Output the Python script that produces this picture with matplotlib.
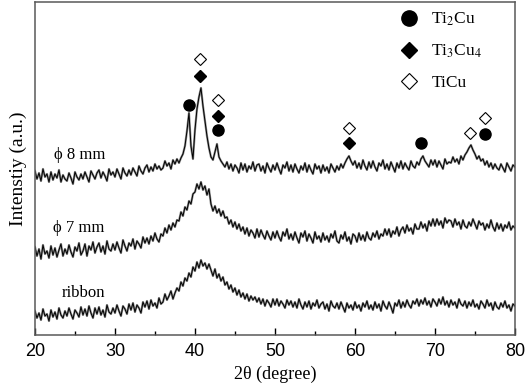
""" XRD patterns of ribbon, 7 mm and 8 mm rods.
"""
import numpy as np
import matplotlib.pyplot as plt

# 2theta grid, 0.25 deg step
two_theta = np.linspace(20, 80, 241)

# intensities (arbitrary units, traces already offset)
ribbon = [
    24, 17, 22, 15, 26, 19, 21, 14,
    25, 18, 23, 16, 27, 20, 17, 24,
    19, 27, 21, 16, 25, 22, 18, 28,
    20, 26, 19, 29, 22, 17, 27, 21,
    28, 20, 25, 18, 30, 23, 21, 27,
    22, 30, 24, 19, 29, 26, 21, 31,
    25, 32, 23, 30, 27, 22, 33, 28,
    34, 26, 35, 29, 32, 27, 37, 31,
    33, 41, 35, 39, 44, 36, 42, 47,
    44, 53, 49, 57, 54, 62, 58, 68,
    64, 73, 67, 75, 69, 72, 66, 71,
    65, 59, 66, 57, 61, 54, 58, 50,
    53, 46, 50, 43, 47, 40, 45, 38,
    42, 36, 41, 34, 39, 35, 38, 33,
    37, 31, 36, 29, 35, 32, 28, 36,
    30, 36, 29, 34, 31, 27, 35, 30,
    34, 28, 33, 27, 36, 30, 26, 33,
    28, 34, 26, 32, 29, 35, 27, 31,
    33, 26, 31, 24, 34, 29, 27, 32,
    26, 33, 28, 23, 32, 27, 30, 25,
    33, 27, 30, 24, 32, 28, 34, 26,
    30, 25, 33, 27, 31, 24, 34, 29,
    26, 33, 28, 22, 32, 29, 35, 27,
    33, 28, 35, 30, 27, 34, 31, 36,
    29, 35, 31, 37, 30, 34, 28, 36,
    33, 29, 36, 31, 38, 30, 34, 28,
    35, 30, 33, 27, 36, 31, 29, 34,
    27, 33, 29, 35, 28, 31, 26, 34,
    31, 27, 35, 29, 32, 25, 33, 28,
    26, 32, 28, 34, 27, 30, 24, 31,
    29,
]

rod_7mm = [
    88, 79, 86, 76, 90, 81, 84, 77,
    89, 80, 87, 78, 85, 91, 79, 86,
    81, 90, 83, 78, 88, 84, 92, 80,
    84, 91, 79, 89, 85, 93, 82, 88,
    92, 83, 89, 81, 94, 86, 84, 91,
    85, 93, 87, 82, 95, 89, 84, 92,
    89, 96, 86, 94, 91, 87, 98, 92,
    97, 91, 99, 94, 102, 96, 93, 101,
    99, 107, 102, 110, 105, 112, 108, 115,
    114, 123, 119, 128, 125, 134, 131, 141,
    143, 151, 146, 153, 145, 149, 140, 146,
    131, 124, 129, 122, 126, 119, 124, 117,
    118, 111, 115, 108, 113, 106, 111, 104,
    108, 101, 107, 99, 105, 102, 97, 106,
    98, 105, 100, 96, 104, 99, 95, 103,
    97, 104, 98, 94, 103, 99, 106, 96,
    101, 95, 103, 97, 92, 102, 98, 104,
    94, 101, 97, 92, 103, 96, 99, 93,
    102, 95, 99, 93, 101, 97, 104, 94,
    92, 100, 96, 103, 94, 98, 91, 101,
    99, 93, 102, 95, 100, 94, 103, 97,
    95, 102, 98, 104, 96, 101, 99, 106,
    100, 106, 98, 104, 101, 108, 99, 105,
    108, 102, 110, 104, 107, 101, 111, 106,
    106, 113, 107, 111, 104, 114, 109, 116,
    109, 116, 110, 114, 107, 117, 112, 115,
    114, 108, 116, 110, 113, 106, 115, 109,
    107, 113, 109, 116, 111, 106, 114, 110,
    112, 105, 111, 107, 115, 108, 104, 112,
    106, 111, 104, 110, 107, 113, 105, 109,
    107,
]

rod_8mm = [
    164, 156, 162, 154, 166, 158, 161, 153,
    163, 155, 161, 157, 165, 153, 160, 156,
    154, 162, 157, 151, 163, 158, 155, 161,
    156, 163, 158, 153, 164, 160, 156, 162,
    165, 157, 163, 159, 154, 166, 160, 163,
    158, 166, 161, 156, 167, 162, 159, 165,
    160, 167, 163, 159, 169, 164, 161, 167,
    170, 163, 168, 164, 171, 166, 169, 165,
    167, 174, 169, 172, 166, 175, 171, 176,
    172, 177, 181, 189, 204, 222, 189, 176,
    205, 226, 238, 247, 229, 214, 199, 187,
    178, 175, 183, 191, 178, 174, 171, 168,
    173, 166, 171, 164, 170, 167, 162, 172,
    165, 171, 163, 169, 166, 173, 164, 170,
    171, 164, 169, 162, 172, 167, 163, 170,
    165, 172, 166, 161, 170, 167, 173, 164,
    170, 163, 171, 166, 162, 169, 165, 172,
    163, 170, 165, 161, 171, 166, 169, 162,
    170, 164, 168, 162, 171, 167, 163, 169,
    165, 171, 167, 172, 176, 179, 174, 170,
    174, 167, 172, 166, 175, 169, 165, 173,
    167, 174, 168, 164, 172, 169, 175, 166,
    171, 165, 173, 168, 163, 172, 167, 174,
    166, 172, 168, 165, 174, 169, 167, 173,
    170, 176, 179, 174, 171, 168, 175, 170,
    175, 168, 174, 170, 166, 176, 171, 173,
    172, 178, 173, 176, 171, 179, 175, 180,
    183, 187, 190, 185, 181, 176, 179, 174,
    176, 170, 174, 168, 172, 166, 171, 167,
    165, 171, 167, 163, 172, 168, 164, 170,
    168,
]

# phase markers (2theta, height)
ti2cu_x = [39.25, 42.85, 68.3, 76.2]
ti2cu_y = [230, 205, 192, 201]
ti3cu4_x = [40.66, 42.9, 59.2]
ti3cu4_y = [259, 219, 192]
ticu_x = [40.66, 42.9, 59.2, 74.4, 76.2]
ticu_y = [276, 235, 207, 202, 217]

sample_labels = ["\u03d5 8 mm", "\u03d5 7 mm", "ribbon"]
label_x = [22.4, 22.2, 23.3]
label_y = [180, 107, 42]

SERIF = ["Liberation Serif", "DejaVu Serif"]
plt.rcParams["mathtext.fontset"] = "stix"

fig = plt.figure(figsize=(5.26, 3.9), dpi=100)
ax = fig.add_axes([0.0665, 0.141, 0.9125, 0.854])

for trace in (ribbon, rod_7mm, rod_8mm):
    # grey halo plus black core, to mimic the dense noisy scan
    ax.plot(two_theta, trace, color="0.55", lw=1.6)
    ax.plot(two_theta, trace, color="black", lw=0.7)

ax.plot(ti2cu_x, ti2cu_y, "o", color="black", ms=8, ls="none")
ax.plot(ti3cu4_x, ti3cu4_y, "D", color="black", ms=6.2, ls="none")
ax.plot(ticu_x, ticu_y, "D", mfc="white", mec="black", mew=0.8, ms=6.2, ls="none")

for txt, lx, ly in zip(sample_labels, label_x, label_y):
    ax.text(lx, ly, txt, family=SERIF, fontsize=12, va="center", ha="left")

# legend
h1, = ax.plot([], [], "o", color="black", ms=11)
h2, = ax.plot([], [], "D", color="black", ms=8.5)
h3, = ax.plot([], [], "D", mfc="white", mec="black", mew=0.8, ms=8.5)
ax.legend([h1, h2, h3], ["Ti$_{2}$Cu", "Ti$_{3}$Cu$_{4}$", "TiCu"],
          loc="upper right", frameon=False, prop={"family": SERIF, "size": 12.5},
          labelspacing=0.85, handletextpad=0.3, borderaxespad=0.1,
          bbox_to_anchor=(0.95, 1.0))

ax.set_xlim(20, 80)
ax.set_ylim(0, 333)
ax.set_xticks([20, 30, 40, 50, 60, 70, 80])
ax.set_xticks([25, 35, 45, 55, 65, 75], minor=True)
ax.set_yticks([])
ax.tick_params(axis="x", which="major", direction="in", length=5, width=1,
               labelsize=13, pad=6)
ax.tick_params(axis="x", which="minor", direction="in", length=3, width=1)
for lab in ax.get_xticklabels():
    lab.set_family(["Liberation Sans", "DejaVu Sans"])
for sp in ax.spines.values():
    sp.set_color("0.35")
    sp.set_linewidth(1.1)

ax.set_xlabel("2\u03b8 (degree)", family=SERIF, fontsize=13, labelpad=4)
ax.set_ylabel("Intenstiy (a.u.)", family=SERIF, fontsize=14, labelpad=6)

plt.savefig("out.png", dpi=100)
plt.close()
